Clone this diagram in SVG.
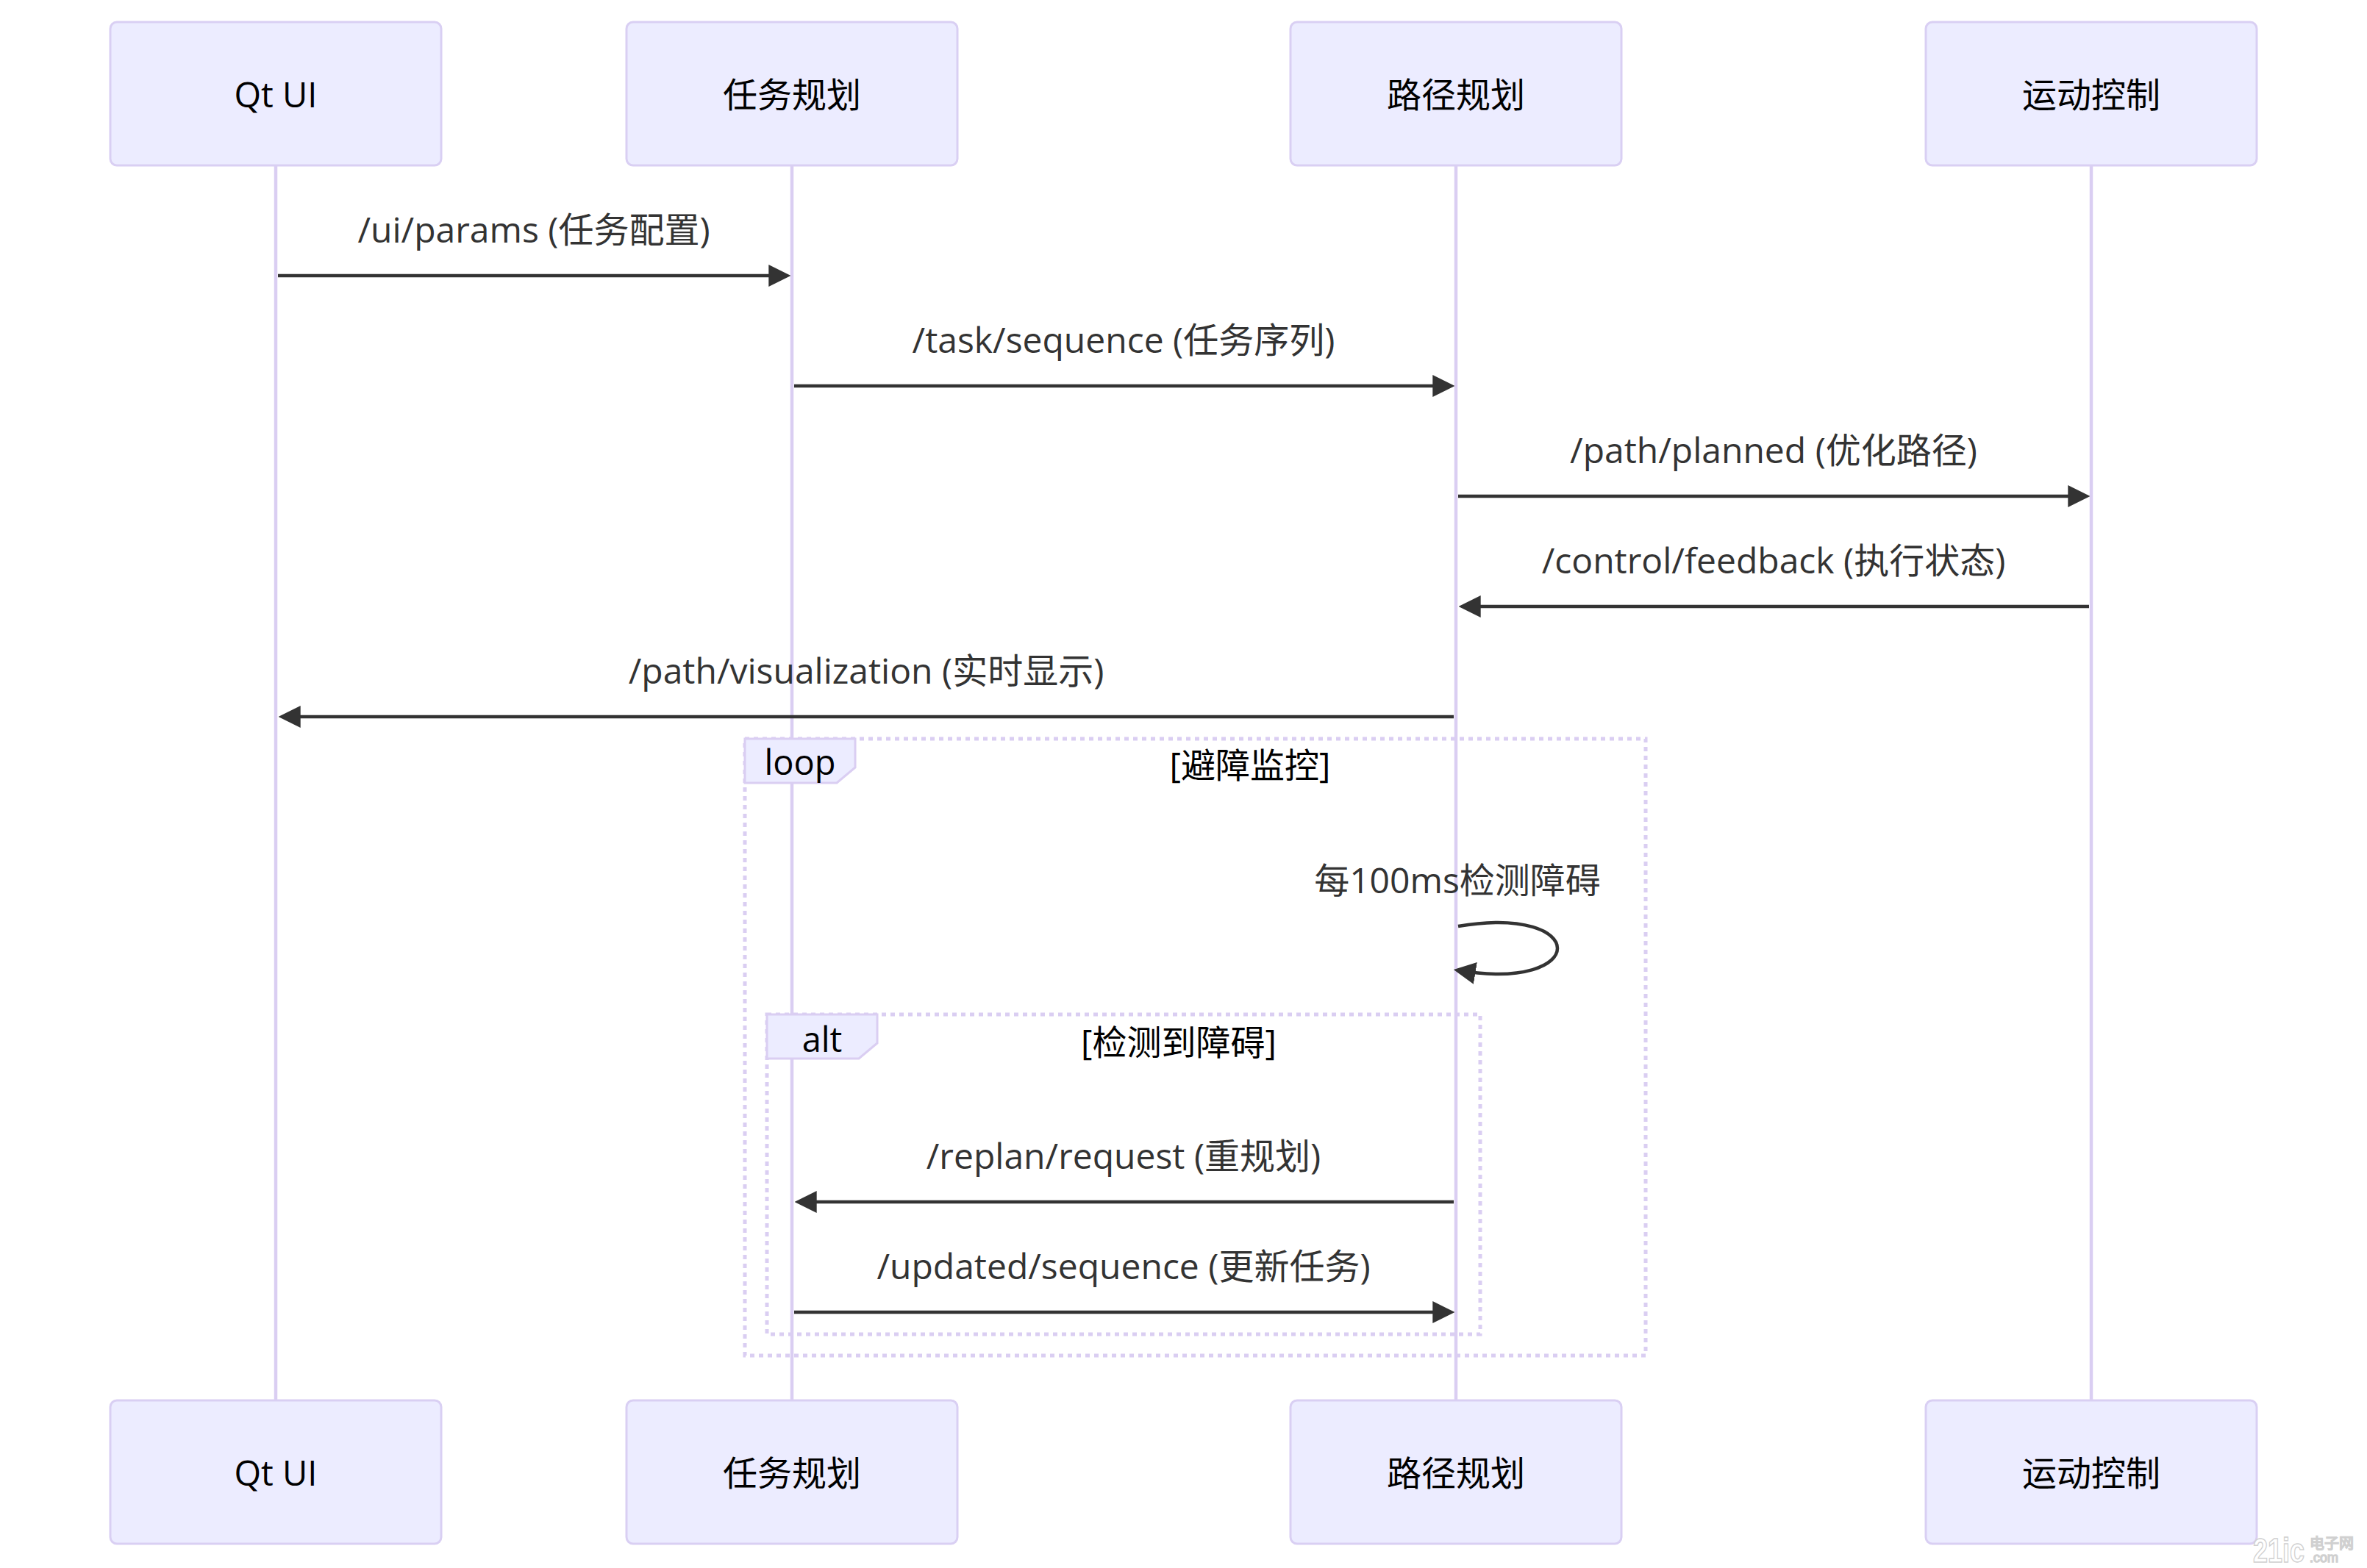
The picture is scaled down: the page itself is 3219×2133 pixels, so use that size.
<svg xmlns="http://www.w3.org/2000/svg" width="3219" height="2133" viewBox="0 0 3219 2133">
<defs>
<style>
.actor{fill:#ECECFF;stroke:#D9CFF3;stroke-width:3}
.atext{font-family:"Open Sans","Noto Sans CJK SC",sans-serif;font-size:47px;fill:#000;text-anchor:middle;dominant-baseline:central}
.life{stroke:#DACEF2;stroke-width:4.5}
.msg{stroke:#333;stroke-width:4.5;fill:none}
.mtext{font-family:"Open Sans","Noto Sans CJK SC",sans-serif;font-size:48px;fill:#333;text-anchor:middle}
.frame{fill:none;stroke:#DACEF2;stroke-width:5;stroke-dasharray:6 6}
.lbox{fill:#ECECFF;stroke:#DACEF2;stroke-width:3}
.ftext{font-family:"Open Sans","Noto Sans CJK SC",sans-serif;font-size:47px;fill:#000;text-anchor:middle}
</style>
<marker id="arrow" viewBox="0 0 10 10" refX="7.9" refY="5" markerWidth="30" markerHeight="30" markerUnits="userSpaceOnUse" orient="auto">
<path d="M0,0 L10,5 L0,10 z" fill="#333"/>
</marker>
</defs>
<rect width="3219" height="2133" fill="#fff"/>
<g id="lifelines">
<line class="life" x1="375" y1="225" x2="375" y2="1905"/>
<line class="life" x1="1077" y1="225" x2="1077" y2="1905"/>
<line class="life" x1="1980" y1="225" x2="1980" y2="1905"/>
<line class="life" x1="2844" y1="225" x2="2844" y2="1905"/>
</g>
<g id="actor-qtui-top"><rect class="actor" x="150" y="30" width="450" height="195" rx="9"/><text class="atext" x="375" y="128">Qt UI</text></g>
<g id="actor-task-top"><rect class="actor" x="852" y="30" width="450" height="195" rx="9"/><text class="atext" x="1077" y="128">任务规划</text></g>
<g id="actor-path-top"><rect class="actor" x="1755" y="30" width="450" height="195" rx="9"/><text class="atext" x="1980" y="128">路径规划</text></g>
<g id="actor-motion-top"><rect class="actor" x="2619" y="30" width="450" height="195" rx="9"/><text class="atext" x="2844" y="128">运动控制</text></g>
<g id="loop-frame">
<rect class="frame" x="1013" y="1005" width="1225" height="839"/>
<polygon class="lbox" points="1013,1005 1163,1005 1163,1044 1138,1065 1013,1065"/>
<text class="ftext" x="1088" y="1054">loop</text>
<text class="ftext" x="1700" y="1058">[避障监控]</text>
</g>
<g id="alt-frame">
<rect class="frame" x="1043" y="1380" width="970" height="435"/>
<polygon class="lbox" points="1043,1380 1193,1380 1193,1419 1168,1440 1043,1440"/>
<text class="ftext" x="1118" y="1431">alt</text>
<text class="ftext" x="1603" y="1435">[检测到障碍]</text>
</g>
<g id="connectors">
<line class="msg" x1="378" y1="375" x2="1069" y2="375" marker-end="url(#arrow)"/>
<text class="mtext" x="726" y="330">/ui/params (任务配置)</text>
<line class="msg" x1="1080" y1="525" x2="1972" y2="525" marker-end="url(#arrow)"/>
<text class="mtext" x="1528" y="480">/task/sequence (任务序列)</text>
<line class="msg" x1="1983" y1="675" x2="2836" y2="675" marker-end="url(#arrow)"/>
<text class="mtext" x="2412" y="630">/path/planned (优化路径)</text>
<line class="msg" x1="2841" y1="825" x2="1990" y2="825" marker-end="url(#arrow)"/>
<text class="mtext" x="2412" y="780">/control/feedback (执行状态)</text>
<line class="msg" x1="1977" y1="975" x2="385" y2="975" marker-end="url(#arrow)"/>
<text class="mtext" x="1178" y="930">/path/visualization (实时显示)</text>
<path class="msg" d="M1983,1260 C2163,1230 2163,1350 1983,1320" marker-end="url(#arrow)"/>
<text class="mtext" x="1982" y="1215">每100ms检测障碍</text>
<line class="msg" x1="1977" y1="1635" x2="1087" y2="1635" marker-end="url(#arrow)"/>
<text class="mtext" x="1528" y="1590">/replan/request (重规划)</text>
<line class="msg" x1="1080" y1="1785" x2="1972" y2="1785" marker-end="url(#arrow)"/>
<text class="mtext" x="1528" y="1740">/updated/sequence (更新任务)</text>
</g>
<g id="actor-qtui-bottom"><rect class="actor" x="150" y="1905" width="450" height="195" rx="9"/><text class="atext" x="375" y="2003">Qt UI</text></g>
<g id="actor-task-bottom"><rect class="actor" x="852" y="1905" width="450" height="195" rx="9"/><text class="atext" x="1077" y="2003">任务规划</text></g>
<g id="actor-path-bottom"><rect class="actor" x="1755" y="1905" width="450" height="195" rx="9"/><text class="atext" x="1980" y="2003">路径规划</text></g>
<g id="actor-motion-bottom"><rect class="actor" x="2619" y="1905" width="450" height="195" rx="9"/><text class="atext" x="2844" y="2003">运动控制</text></g>
<g id="watermark" font-family="'Liberation Sans','Noto Sans CJK SC',sans-serif" fill="#fff" stroke="#d0d0d0" stroke-width="1.5">
<text x="3064" y="2125" font-size="46" font-weight="bold" textLength="70" lengthAdjust="spacingAndGlyphs">21ic</text>
<text x="3141" y="2107" font-size="20">电子网</text>
<text x="3141" y="2125" font-size="18">.com</text>
</g>
</svg>
